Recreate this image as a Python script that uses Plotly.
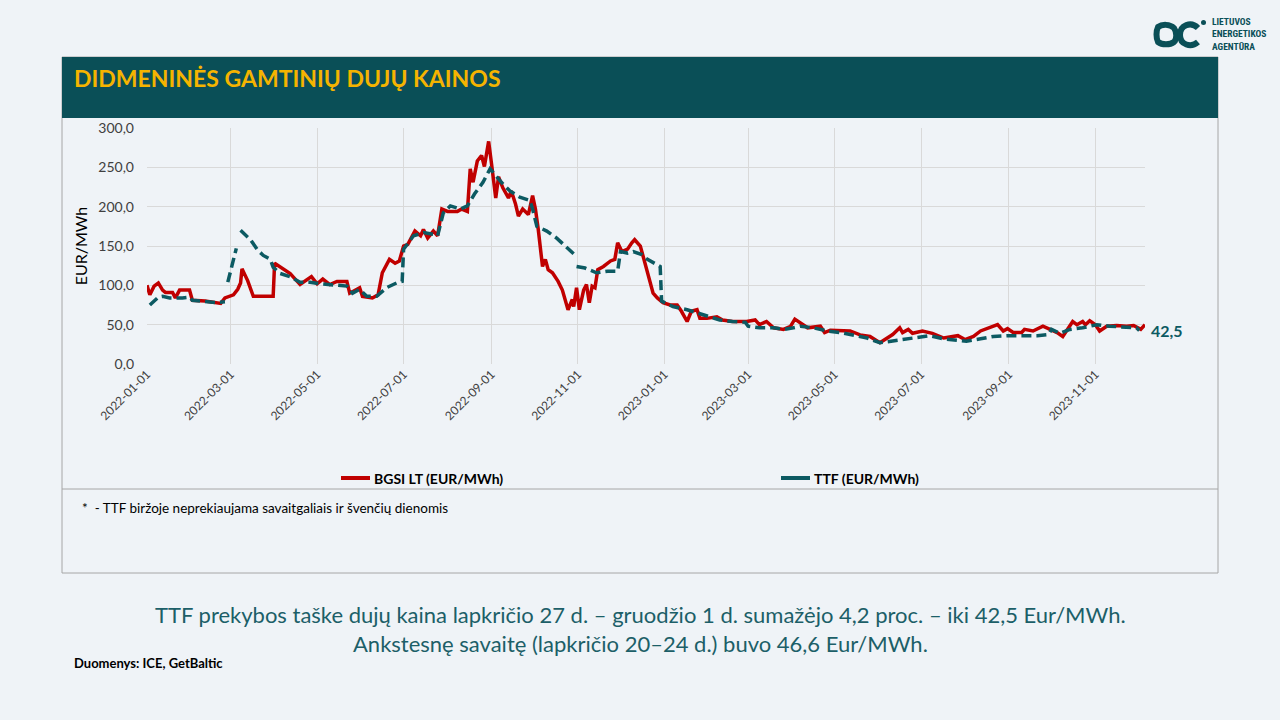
import pandas as pd
import plotly.graph_objects as go

# Values; days counted from 2022-01-01
bgsi_day = [0, 2, 5, 8, 11, 13, 18, 20, 23, 30, 32, 41, 52, 55, 61, 64, 66, 67, 71, 75, 89, 90,
            101, 108, 116, 120, 124, 129, 134, 141, 143, 150, 152, 159, 163, 166, 171, 175, 178,
            181, 184, 189, 193, 195, 198, 202, 205, 208, 212, 219, 222, 226, 228, 230, 233, 236,
            238, 241, 243, 246, 248, 251, 255, 257, 260, 262, 265, 269, 272, 274, 276, 279, 281,
            283, 286, 290, 293, 297, 300, 301, 303, 305, 308, 310, 312, 314, 316, 318, 322, 327,
            330, 332, 335, 339, 342, 344, 348, 350, 353, 355, 357, 360, 364, 369, 374, 377, 381,
            384, 388, 390, 395, 402, 406, 413, 423, 429, 432, 437, 442, 449, 454, 457, 461, 466,
            475, 478, 482, 489, 496, 503, 510, 517, 522, 526, 531, 533, 537, 540, 547, 554, 562,
            568, 572, 577, 583, 588, 595, 600, 604, 607, 611, 617, 619, 625, 632, 637, 642, 646,
            649, 653, 656, 660, 662, 665, 669, 672, 677, 684, 691, 696, 701, 704]
bgsi_val = [100, 88, 99, 103, 94, 91, 91, 84, 94, 94, 81, 80, 77, 84, 88, 95, 103, 121, 106, 86, 86, 128,
            115, 101, 111, 102, 108, 101, 105, 105, 90, 97, 86, 84, 88, 116, 133, 128, 131,
            150, 152, 169, 163, 171, 160, 169, 163, 197, 194, 194, 197, 194, 248, 231, 258, 265,
            251, 283, 255, 211, 238, 224, 211, 220, 203, 188, 197, 190, 214, 197, 171, 124, 133,
            120, 116, 105, 94, 69, 82, 73, 97, 69, 94, 101, 78, 99, 97, 120, 124, 131,
            133, 154, 143, 146, 154, 158, 150, 137, 116, 103, 90, 84, 78, 75, 75, 67, 54,
            67, 69, 58, 58, 60, 56, 54, 54, 56, 50, 54, 46, 44, 48, 57, 52, 46,
            48, 40, 43, 42, 42, 37, 35, 27, 33, 37.5, 46, 40, 44, 39, 42, 39, 33,
            35, 36, 31, 35, 42, 46, 50, 42, 45, 40, 40, 44, 42, 48, 44, 40, 35,
            44, 54, 50, 54, 50, 55, 50, 42, 48, 49, 48, 49, 44, 50]

ttf_day = [2, 6, 8, 11, 16, 25, 30, 32, 41, 49, 55, 56, 57, 60, 63, 64, 66, 73, 78, 82, 87, 89, 94,
           101, 108, 115, 122, 131, 141, 145, 150, 155, 162, 169, 176, 180, 181, 188, 195, 202,
           205, 209, 214, 221, 226, 231, 237, 242, 246, 251, 256, 263, 270, 272, 275, 282, 289,
           295, 301, 302, 303, 309, 317, 325, 332, 334, 339, 343, 349, 353, 360, 362, 363, 371,
           381, 388, 395, 404, 413, 422, 424, 432, 442, 449, 456, 461, 470, 480, 489, 498, 508,
           517, 524, 536, 545, 552, 562, 571, 578, 588, 597, 607, 616, 628, 636, 638, 644, 651,
           660, 670, 679, 691, 698, 700]
ttf_val = [75, 82, 85, 86, 84, 84, 85, 81, 79, 78, 79, None, 104, 125, 147, None, 170, 158, 145, 138, 133, 123, 115,
           111, 104, 104, 102, 101, 99, 90, 95, 86, 86, 97, 103, 105, 146, 163, 167, 165,
           163, 192, 201, 197, 201, 216, 231, 248, 239, 229, 220, 212, 208, 197, 175, 169, 160,
           150, 140, None, 124, 122, 116, 118, 118, 143, 141, 143, 139, 133, 126, 124, 80, 73,
           69, 65, 60, 56, 54, 53, 48, 46, 46, 44, 46, 48, 46, 42, 40, 37, 33,
           27, 29, 32, 35, 36, 32, 30, 29, 32, 35, 36, 36, 36, 37.5, 44, 39, 44,
           46, 50, 48, 47, 46, 42.5]

y_ticks = [0, 50, 100, 150, 200, 250, 300]
series_names = ["BGSI LT (EUR/MWh)", "TTF (EUR/MWh)"]

RED = "#c00000"
TEAL = "#0c5a62"
HEAD = "#0a4f57"
GOLD = "#f5b400"
BG = "#eff3f7"
FONT = "Lato, Noto Sans, sans-serif"
NARROW = "Roboto Condensed, Liberation Sans Narrow, Lato, sans-serif"

start = pd.Timestamp("2022-01-01")
bgsi_x = start + pd.to_timedelta(bgsi_day, unit="D")
ttf_x = start + pd.to_timedelta(ttf_day, unit="D")

# plot area in pixels, used to place the decorations around it
L, R, T, B = 147, 1145, 128, 364
def px(x):
    return (x - L) / (R - L)
def py(y):
    return (B - y) / (B - T)

fig = go.Figure()
fig.add_trace(go.Scatter(x=bgsi_x, y=bgsi_val, mode="lines", showlegend=False,
                         line=dict(color=RED, width=3.5)))
fig.add_trace(go.Scatter(x=ttf_x, y=ttf_val, mode="lines", showlegend=False, connectgaps=False,
                         line=dict(color=TEAL, width=3.5, dash="10px,5px")))

shapes = [
    dict(type="rect", xref="paper", yref="paper", x0=px(62), x1=px(1218), y0=py(573), y1=py(57),
         line=dict(color="#a6a6a6", width=1), fillcolor="rgba(0,0,0,0)", layer="below"),
    dict(type="rect", xref="paper", yref="paper", x0=px(62), x1=px(1218), y0=py(118), y1=py(57),
         line=dict(width=0), fillcolor=HEAD, layer="below"),
    dict(type="line", xref="paper", yref="paper", x0=px(62), x1=px(1218), y0=py(489), y1=py(489),
         line=dict(color="#a6a6a6", width=1)),
    # legend samples
    dict(type="line", xref="paper", yref="paper", x0=px(341), x1=px(370), y0=py(478), y1=py(478),
         line=dict(color=RED, width=4)),
    dict(type="line", xref="paper", yref="paper", x0=px(781), x1=px(810), y0=py(478), y1=py(478),
         line=dict(color=TEAL, width=4)),
    # logo
    dict(type="path", xref="paper", yref="paper", xsizemode="pixel", ysizemode="pixel",
         xanchor=px(1166), yanchor=py(35),
         path="M -8,8 C -4,11 4,11 8,7 C 11,3 11,-4 8,-7 C 4,-10 -4,-10 -8,-7 C -10,-3 -10,4 -8,8 Z",
         line=dict(color=HEAD, width=6)),
    dict(type="path", xref="paper", yref="paper", xsizemode="pixel", ysizemode="pixel",
         xanchor=px(1191), yanchor=py(35),
         path="M 7,7 C 0,14 -11,10 -11,0 C -11,-10 0,-13 7,-7", line=dict(color=HEAD, width=6)),
    dict(type="circle", xref="paper", yref="paper", x0=px(1201), x1=px(1206), y0=py(25), y1=py(20),
         line=dict(width=0), fillcolor=HEAD),
]

annotations = [
    dict(text="<b>DIDMENINĖS GAMTINIŲ DUJŲ KAINOS</b>", x=px(72), y=py(78), xref="paper", yref="paper",
         xanchor="left", yanchor="middle", showarrow=False, font=dict(family=FONT, size=23, color=GOLD)),
    dict(text="<b>LIETUVOS<br>ENERGETIKOS<br>AGENTŪRA</b>", x=px(1210), y=py(34), xref="paper", yref="paper",
         xanchor="left", yanchor="middle", align="left", showarrow=False,
         font=dict(family=NARROW, size=9.5, color=HEAD)),
    dict(text="<b>42,5</b>", x=ttf_x[-1], y=ttf_val[-1], xref="x", yref="y", xanchor="left",
         yanchor="middle", xshift=10, showarrow=False, font=dict(family=FONT, size=16, color=TEAL)),
    dict(text="<b>" + series_names[0] + "</b>", x=px(372), y=py(478), xref="paper", yref="paper",
         xanchor="left", yanchor="middle", showarrow=False, font=dict(family=FONT, size=14, color="#000000")),
    dict(text="<b>" + series_names[1] + "</b>", x=px(812), y=py(478), xref="paper", yref="paper",
         xanchor="left", yanchor="middle", showarrow=False, font=dict(family=FONT, size=14, color="#000000")),
    dict(text="*  - TTF biržoje neprekiaujama savaitgaliais ir švenčių dienomis", x=px(80), y=py(508),
         xref="paper", yref="paper", xanchor="left", yanchor="middle", showarrow=False,
         font=dict(family=FONT, size=13.5, color="#000000")),
    dict(text="TTF prekybos taške dujų kaina lapkričio 27 d. – gruodžio 1 d. sumažėjo 4,2 proc. – iki 42,5 Eur/MWh.",
         x=px(640), y=py(614), xref="paper", yref="paper", xanchor="center", yanchor="middle",
         showarrow=False, font=dict(family=FONT, size=22, color="#1c5f68")),
    dict(text="Ankstesnę savaitę (lapkričio 20–24 d.) buvo 46,6 Eur/MWh.",
         x=px(640), y=py(643), xref="paper", yref="paper", xanchor="center", yanchor="middle",
         showarrow=False, font=dict(family=FONT, size=22, color="#1c5f68")),
    dict(text="<b>Duomenys: ICE, GetBaltic</b>", x=px(72), y=py(663), xref="paper", yref="paper",
         xanchor="left", yanchor="middle", showarrow=False,
         font=dict(family=FONT, size=13, color="#000000")),
]

fig.update_layout(
    width=1280, height=720,
    margin=dict(l=L, r=1280 - R, t=T, b=720 - B),
    paper_bgcolor=BG, plot_bgcolor=BG,
    separators=", ",
    showlegend=False,
    font=dict(family=FONT, size=13, color="#404040"),
    shapes=shapes, annotations=annotations,
    xaxis=dict(type="date", range=["2022-01-01", "2023-12-06"], tick0="2022-01-01", dtick="M2",
               tickformat="%Y-%m-%d", tickangle=-45, showgrid=True, gridcolor="#d9d9d9",
               zeroline=False, showline=False, ticks="", tickfont=dict(size=12, color="#404040")),
    yaxis=dict(range=[0, 300], tickvals=y_ticks, tickformat=".1f", showgrid=True, gridcolor="#d9d9d9",
               zeroline=False, showline=False, ticks="", ticklabelstandoff=12,
               title=dict(text="EUR/MWh", font=dict(size=16, color="#000000"), standoff=6),
               tickfont=dict(size=14, color="#404040")),
)

fig.write_html("out.html", config={"displayModeBar": False},
               post_script="document.body.style.margin='0';")
